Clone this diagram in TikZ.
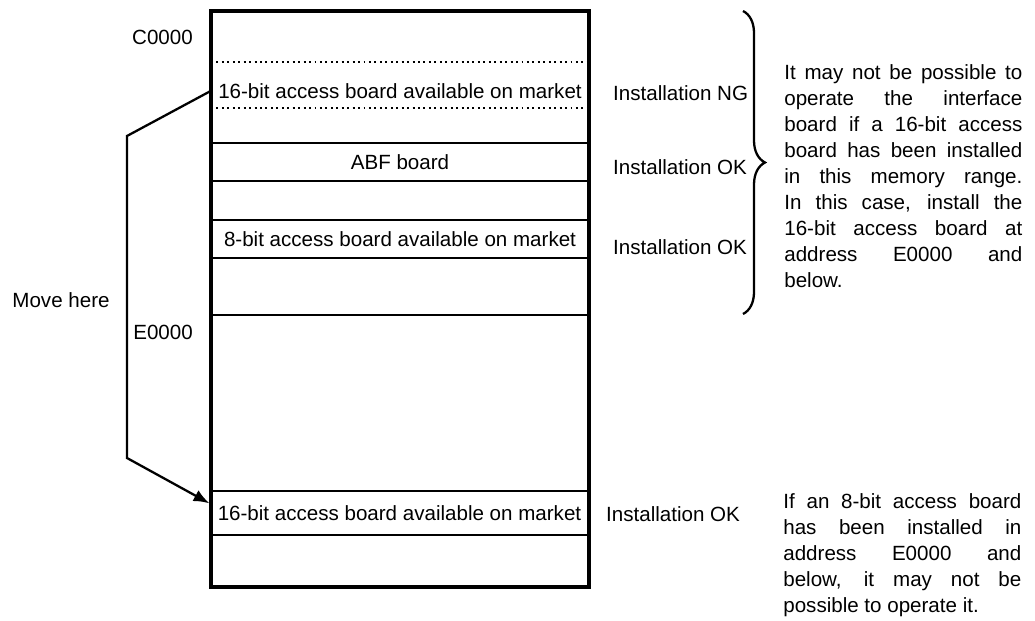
\documentclass[tikz,border=0pt]{standalone}
\usepackage{fontspec}
\setmainfont{Liberation Sans}
\usetikzlibrary{arrows.meta}
\usetikzlibrary{decorations.pathreplacing}

\begin{document}
\begin{tikzpicture}
\tikzset{every node/.style = {font=\fontsize{11.7}{14}\selectfont}}
\tikzset{band/.style = {draw, line width=1.2pt, minimum width=7.56cm, inner sep=0pt}}
\tikzset{note/.style = {text width=4.76cm, align=justify, inner sep=0pt, anchor=west, font=\fontsize{11.7}{14.8}\selectfont}}
\tikzset{edge/.style = {-{Latex[length=9pt, width=7pt]}, line width=1.3pt}}

   \useasboundingbox (0,0) rectangle (20.7,-12.42);

   % memory map
   \node[band, minimum height=.76cm] (abf) at (8.0,-3.24) {ABF board};
   \node[band, minimum height=.76cm] (eight) at (8.0,-4.78) {8-bit access board available on market};
   \node[band, minimum height=.88cm] (new16) at (7.99,-10.26) {16-bit access board available on market};
   \node[minimum width=7.56cm, inner sep=0pt] (old16) at (8.0,-1.82) {16-bit access board available on market};
   \draw[dotted, line width=1.1pt] (4.22,-1.24) -- (11.78,-1.24);
   \draw[dotted, line width=1.1pt] (4.22,-2.16) -- (11.78,-2.16);
   \draw[line width=1.2pt] (4.22,-6.30) -- (11.78,-6.30);
   \node[draw, line width=1.8pt, minimum width=7.56cm, minimum height=11.52cm, inner sep=0pt] (memmap) at (8.0,-5.98) {};

   \node[anchor=east] (c0000) at (3.98,-0.74) {C0000};
   \node[anchor=east] (e0000) at (3.98,-6.64) {E0000};
   \node (movehere) at (1.22,-6.00) {Move here};

   \coordinate (bendtop) at (2.54,-2.72);
   \coordinate (bendbot) at (2.54,-9.16);
   \draw[edge] (old16.west) -- (bendtop) -- (bendbot) -- ([yshift=5.5pt]new16.west);

   \node[anchor=west] (ng) at (12.14,-1.86) {Installation NG};
   \node[anchor=west] (okabf) at (12.14,-3.34) {Installation OK};
   \node[anchor=west] (okeight) at (12.14,-4.94) {Installation OK};
   \node[anchor=west] (oknew) at (12.0,-10.28) {Installation OK};

   \coordinate (bracetop) at (14.86,-0.22);
   \coordinate (bracebot) at (14.86,-6.28);
   \draw[line width=1.3pt, decorate, decoration={brace, amplitude=.44cm}] (bracetop) -- (bracebot);

   \node[note] (warn16) at (15.68,-3.52) {It may not be possible to\linebreak operate the interface\linebreak board if a 16-bit access\linebreak board has been installed\linebreak in this memory range.\linebreak In this case, install the\linebreak 16-bit access board at\linebreak address E0000 and\linebreak below.};
   \node[note] (warn8) at (15.66,-11.11) {If an 8-bit access board\linebreak has been installed in\linebreak address E0000 and\linebreak below, it may not be\linebreak possible to operate it.};

\end{tikzpicture}
\end{document}
